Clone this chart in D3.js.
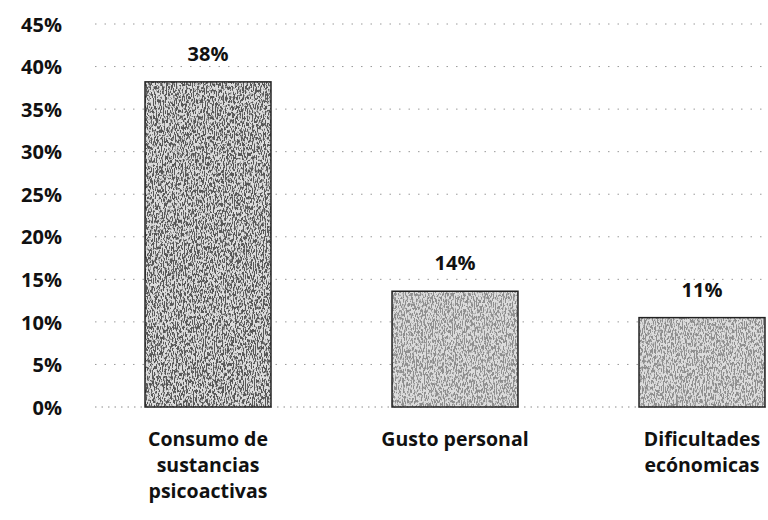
<!DOCTYPE html>
<html>
<head>
<meta charset="utf-8">
<script src="https://cdn.jsdelivr.net/npm/d3@7"></script>
<style>
  html, body { margin: 0; padding: 0; background: #fff; }
  svg { display: block; }
  text { font-family: "Open Sans", Lato, sans-serif; font-weight: 700; fill: #111; }
</style>
</head>
<body>
<svg id="chart" width="768" height="520"></svg>
<script>
const categories = [["Consumo de", "sustancias", "psicoactivas"], ["Gusto personal"], ["Dificultades", "ecónomicas"]];
const values = [38.2, 13.6, 10.5];
const valueLabels = ["38%", "14%", "11%"];
const yTicks = [0, 5, 10, 15, 20, 25, 30, 35, 40, 45];

const svg = d3.select("#chart");
const W = 768, H = 520;
const x0 = 85, x1 = 825;
const yTop = 24, yBottom = 407;
const FONT = 20;

const x = d3.scaleBand()
  .domain(d3.range(values.length))
  .range([x0, x1])
  .paddingInner(0.49)
  .paddingOuter(0.243);

const y = d3.scaleLinear().domain([0, 45]).range([yBottom, yTop]);

// stipple texture
const defs = svg.append("defs");
const f = defs.append("filter").attr("id", "stipple")
  .attr("x", 0).attr("y", 0).attr("width", 1).attr("height", 1);
f.append("feTurbulence").attr("type", "fractalNoise")
  .attr("baseFrequency", "0.9 0.3").attr("numOctaves", 2).attr("seed", 4).attr("result", "noise");
f.append("feColorMatrix").attr("in", "noise").attr("type", "matrix")
  .attr("values", "0 0 0 0 0  0 0 0 0 0  0 0 0 0 0  0 0 0 -9 4.8").attr("result", "dots");
f.append("feComposite").attr("in", "dots").attr("in2", "SourceGraphic").attr("operator", "in");

// gridlines
const grid = svg.append("g");
grid.selectAll("line").data(yTicks.filter(d => d > 0)).join("line")
  .attr("x1", 95).attr("x2", W)
  .attr("y1", d => y(d)).attr("y2", d => y(d))
  .attr("stroke", "#9a9a9a").attr("stroke-width", 1)
  .attr("stroke-dasharray", "1.5,8");
grid.append("line")
  .attr("x1", 95).attr("x2", W).attr("y1", y(0)).attr("y2", y(0))
  .attr("stroke", "#8a8a8a").attr("stroke-width", 1).attr("stroke-dasharray", "1.5,5");

// y axis labels
const yAxis = d3.axisLeft(y).tickValues(yTicks).tickFormat(d => d + "%").tickSize(0).tickPadding(0);
const ya = svg.append("g").attr("transform", "translate(62,0)").call(yAxis);
ya.select(".domain").remove();
ya.selectAll("text").attr("font-size", FONT).attr("fill", "#111")
  .style("font-family", "'Open Sans', Lato, sans-serif").style("font-weight", 700)
  .attr("dy", "0.36em");

// bars
const bars = svg.append("g");
bars.selectAll("rect.base").data(values).join("rect")
  .attr("class", "base")
  .attr("x", (d, i) => x(i)).attr("width", x.bandwidth())
  .attr("y", d => y(d)).attr("height", d => y(0) - y(d))
  .attr("fill", "#dcdcdc");
bars.selectAll("rect.tex").data(values).join("rect")
  .attr("class", "tex")
  .attr("x", (d, i) => x(i)).attr("width", x.bandwidth())
  .attr("y", d => y(d)).attr("height", d => y(0) - y(d))
  .attr("fill", "#000").attr("opacity", (d, i) => i === 0 ? 0.6 : 0.35)
  .attr("filter", "url(#stipple)");
bars.selectAll("rect.out").data(values).join("rect")
  .attr("class", "out")
  .attr("x", (d, i) => x(i)).attr("width", x.bandwidth())
  .attr("y", d => y(d)).attr("height", d => y(0) - y(d))
  .attr("fill", "none").attr("stroke", "#222").attr("stroke-width", 1.5);

// value labels
svg.append("g").selectAll("text").data(values).join("text")
  .attr("x", (d, i) => x(i) + x.bandwidth() / 2)
  .attr("y", d => y(d) - 21)
  .attr("text-anchor", "middle").attr("font-size", FONT)
  .text((d, i) => valueLabels[i]);

// category labels (one text per line)
const catLines = [];
categories.forEach((lines, i) => lines.forEach((t, j) => catLines.push({ i, j, t })));
svg.append("g").selectAll("text").data(catLines).join("text")
  .attr("x", d => x(d.i) + x.bandwidth() / 2)
  .attr("y", d => 446 + d.j * 26)
  .attr("text-anchor", "middle").attr("font-size", FONT - 0.5)
  .text(d => d.t);
</script>
</body>
</html>
